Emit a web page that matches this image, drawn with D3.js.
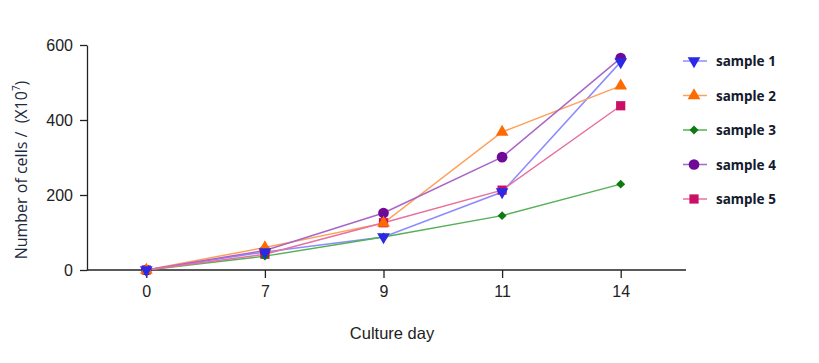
<!DOCTYPE html>
<html>
<head>
<meta charset="utf-8">
<script src="https://cdn.jsdelivr.net/npm/d3@7"></script>
<style>
	body { margin: 0; background: #fff; }
	svg { display: block; }
</style>
</head>
<body>
<div id="chart"></div>
<script>
// Data
const days = ['0', '7', '9', '11', '14'];
const sample1 = [0, 48, 88, 208, 555];
const sample2 = [0, 60, 125, 368, 491];
const sample3 = [0, 37, 88, 145, 229];
const sample4 = [0, 52, 152, 301, 565];
const sample5 = [0, 42, 126, 213, 438];
const yTicks = [0, 200, 400, 600];

const series = [
	{name: 'sample 1', values: sample1, line: '#8c8cff', fill: '#2a2ae6', shape: 'down'},
	{name: 'sample 2', values: sample2, line: '#ffa05a', fill: '#ff6a00', shape: 'up'},
	{name: 'sample 3', values: sample3, line: '#55b055', fill: '#0f7a0f', shape: 'diamond'},
	{name: 'sample 4', values: sample4, line: '#a866c8', fill: '#6e0a96', shape: 'circle'},
	{name: 'sample 5', values: sample5, line: '#e8709e', fill: '#cc0f66', shape: 'square'}
];

const width = 819;
const height = 363;
const svg = d3.select('#chart').append('svg').attr('width', width).attr('height', height);

const x = d3.scalePoint().domain(days).range([87, 680]).padding(0.5);
const y = d3.scaleLinear().domain([0, 600]).range([270, 45]);

// Marker path for each shape
function markerPath(shape) {
	if (shape === 'down' || shape === 'up') return d3.symbol().type(d3.symbolTriangle).size(70)();
	if (shape === 'diamond') return d3.symbol().type(d3.symbolSquare).size(40)();
	if (shape === 'circle') return d3.symbol().type(d3.symbolCircle).size(90)();
	return d3.symbol().type(d3.symbolSquare).size(85)();
}

// Rotation so the down triangle and the diamond point the right way
function markerTurn(shape) {
	if (shape === 'down') return ' rotate(180)';
	if (shape === 'diamond') return ' rotate(45)';
	return '';
}

// Axes
const yAxis = svg.append('g')
	.attr('transform', 'translate(87,0)')
	.call(d3.axisLeft(y).tickValues(yTicks).tickSize(7).tickPadding(7).tickSizeOuter(0));
const xAxis = svg.append('g')
	.attr('transform', 'translate(0,270)')
	.call(d3.axisBottom(x).tickSize(8).tickPadding(8).tickSizeOuter(0));
// x axis line runs a bit past the last category
xAxis.select('.domain').attr('d', 'M87,0H686');

[yAxis, xAxis].forEach((g) => {
	g.selectAll('path, line').attr('stroke', '#222').attr('stroke-width', 1.3);
	g.selectAll('text')
		.attr('fill', '#222')
		.style('font-family', '"Liberation Sans", Arial, sans-serif')
		.style('font-size', '16px');
});

// Axis titles
svg.append('text')
	.attr('transform', 'translate(27,170) rotate(-90)')
	.attr('text-anchor', 'middle')
	.attr('fill', '#1e2a40')
	.style('white-space', 'pre')
	.style('font-family', '"Open Sans", "Noto Sans", sans-serif')
	.style('font-size', '16px')
	.html('Number of cells /  (X10<tspan dy="-7" font-size="10px">7</tspan><tspan dy="7">)</tspan>');

svg.append('text')
	.attr('x', 392)
	.attr('y', 339)
	.attr('text-anchor', 'middle')
	.attr('fill', '#222')
	.style('font-family', '"Liberation Sans", Arial, sans-serif')
	.style('font-size', '16.5px')
	.text('Culture day');

// Lines
const line = d3.line().x((d, i) => x(days[i])).y((d) => y(d));
svg.selectAll('.series-line')
	.data(series)
	.enter()
	.append('path')
	.attr('class', 'series-line')
	.attr('d', (s) => line(s.values))
	.attr('fill', 'none')
	.attr('stroke', (s) => s.line)
	.attr('stroke-width', 1.5);

// Markers, drawn in reverse so sample 1 sits on top
series.slice().reverse().forEach((s) => {
	svg.selectAll(null)
		.data(s.values)
		.enter()
		.append('path')
		.attr('d', markerPath(s.shape))
		.attr('transform', (d, i) => `translate(${x(days[i])},${y(d)})` + markerTurn(s.shape))
		.attr('fill', s.fill);
});

// Legend
const legend = svg.selectAll('.legend')
	.data(series)
	.enter()
	.append('g')
	.attr('class', 'legend')
	.attr('transform', (d, i) => `translate(683,${61 + i * 34.5})`);

legend.append('line')
	.attr('x1', 0)
	.attr('x2', 24)
	.attr('stroke', (d) => d.line)
	.attr('stroke-width', 1.5);

legend.append('path')
	.attr('d', (d) => markerPath(d.shape))
	.attr('transform', (d) => 'translate(11,0)' + markerTurn(d.shape))
	.attr('fill', (d) => d.fill);

legend.append('text')
	.attr('x', 33)
	.attr('y', 5)
	.attr('fill', '#141a2e')
	.style('font-family', '"Noto Sans", sans-serif')
	.style('font-weight', 'bold')
	.style('font-size', '13.5px')
	.text((d) => d.name);
</script>
</body>
</html>
